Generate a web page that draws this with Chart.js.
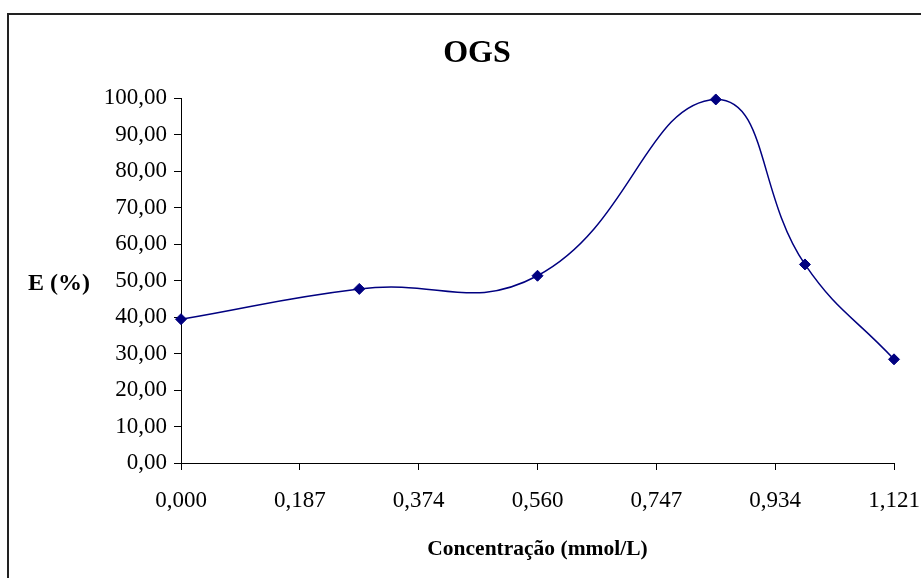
<!DOCTYPE html>
<html>
<head>
<meta charset="utf-8">
<script src="https://cdn.jsdelivr.net/npm/chart.js@4.4.1/dist/chart.umd.min.js"></script>
<style>
    html, body { margin: 0; padding: 0; background: #fff; overflow: hidden; }
    #wrap { position: relative; width: 921px; height: 578px; }
    #frame { position: absolute; left: 7px; top: 13px; width: 1000px; height: 1000px;
             border-left: 2px solid #222; border-top: 2px solid #222; }
    canvas { position: absolute; left: 0; top: 0; }
</style>
</head>
<body>
<div id="wrap">
    <div id="frame"></div>
    <canvas id="lineChart" width="921" height="578"></canvas>
</div>
<script>
// Datos
const concentracoes = [0, 0.2803, 0.5605, 0.8408, 0.9810, 1.121];
const eficiencia = [39.4, 47.7, 51.3, 99.6, 54.4, 28.4];
const xTickLabels = ['0,000', '0,187', '0,374', '0,560', '0,747', '0,934', '1,121'];
const xMax = 1.121;

const serif = "'Liberation Serif', 'Times New Roman', serif";

// Etiqueta del eje Y en horizontal
const yLabelPlugin = {
    id: 'yLabel',
    afterDraw(chart) {
        const ctx = chart.ctx;
        ctx.save();
        ctx.font = 'bold 24px ' + serif;
        ctx.fillStyle = '#000';
        ctx.textAlign = 'left';
        ctx.textBaseline = 'middle';
        ctx.fillText('E (%)', 28, 284);
        ctx.restore();
    }
};

const ctx = document.getElementById('lineChart').getContext('2d');
new Chart(ctx, {
    type: 'line',
    data: {
        datasets: [{
            label: 'OGS',
            data: concentracoes.map((x, i) => ({ x: x, y: eficiencia[i] })),
            borderColor: '#000080',
            backgroundColor: '#000080',
            borderWidth: 1.5,
            tension: 0.45,
            clip: false,
            pointStyle: 'rectRot',
            pointRadius: 5.5,
            pointBorderWidth: 1,
            pointBorderColor: '#000080',
            pointBackgroundColor: '#000080'
        }]
    },
    options: {
        responsive: false,
        animation: false,
        layout: { padding: { left: 33, right: 0, top: 0, bottom: 0 } },
        plugins: {
            legend: { display: false },
            tooltip: { enabled: false },
            title: {
                display: true,
                text: 'OGS',
                color: '#000',
                font: { family: serif, size: 32, weight: 'bold', lineHeight: 1.2 },
                padding: { top: 35, bottom: 24.6 }
            }
        },
        scales: {
            x: {
                type: 'linear',
                min: 0,
                max: xMax,
                afterBuildTicks(scale) {
                    scale.ticks = xTickLabels.map((t, i) => ({ value: xMax * i / (xTickLabels.length - 1) }));
                },
                afterFit(scale) {
                    scale.height = 115;
                    scale.paddingRight = 27;
                },
                ticks: {
                    color: '#000',
                    font: { family: serif, size: 23 },
                    padding: 17,
                    maxRotation: 0,
                    autoSkip: false,
                    callback: (v, i) => xTickLabels[i]
                },
                grid: { drawOnChartArea: false, drawTicks: true, tickLength: 7, color: '#000' },
                border: { color: '#000', width: 1 },
                title: {
                    display: true,
                    text: 'Concentração (mmol/L)',
                    color: '#000',
                    font: { family: serif, size: 21.5, weight: 'bold' },
                    padding: { top: 0, bottom: 16 }
                }
            },
            y: {
                min: 0,
                max: 100,
                afterFit(scale) { scale.width = 148; },
                ticks: {
                    stepSize: 10,
                    color: '#000',
                    font: { family: serif, size: 23 },
                    padding: 7,
                    callback: v => v.toFixed(2).replace('.', ',')
                },
                grid: { drawOnChartArea: false, drawTicks: true, tickLength: 7, color: '#000' },
                border: { color: '#000', width: 1 }
            }
        }
    },
    plugins: [yLabelPlugin]
});
</script>
</body>
</html>
